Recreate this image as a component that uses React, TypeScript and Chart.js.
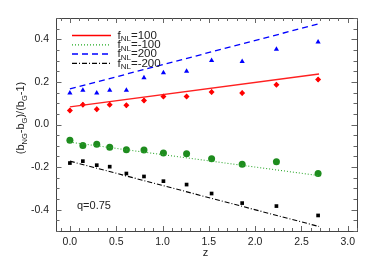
import React, { useEffect, useRef } from 'react';
import { Chart, registerables } from 'chart.js';
Chart.register(...registerables);

// ---- data ----
const zValues = [0.0, 0.14, 0.29, 0.43, 0.61, 0.8, 1.01, 1.26, 1.53, 1.86, 2.23, 2.68];
const blueTri = [0.148, 0.161, 0.148, 0.161, 0.161, 0.22, 0.243, 0.25, 0.3, 0.296, 0.353, 0.387];
const redDiamond = [0.066, 0.093, 0.072, 0.093, 0.09, 0.113, 0.131, 0.132, 0.153, 0.148, 0.187, 0.211];
const redErr = [0.011, 0.011, 0.011, 0.011, 0.011, 0.011, 0.011, 0.011, 0.011, 0.011, 0.011, 0.011];
const greenCircle = [-0.074, -0.099, -0.093, -0.107, -0.118, -0.12, -0.134, -0.137, -0.161, -0.187, -0.175, -0.23];
const blackSquare = [-0.181, -0.172, -0.191, -0.198, -0.23, -0.244, -0.266, -0.282, -0.324, -0.369, -0.383, -0.427];

const fitZ = [0.0, 2.69];
const fitRed = [0.083, 0.237];
const fitGreen = [-0.083, -0.24];
const fitBlue = [0.167, 0.473];
const fitBlack = [-0.172, -0.479];

const xTickValues = [0, 0.5, 1, 1.5, 2, 2.5, 3];
const yTickValues = [-0.4, -0.2, 0, 0.2, 0.4];
const legendValues = ['100', '-100', '200', '-200'];
const annotationText = 'q=0.75';

const FONT = '"Liberation Sans", Arial, Helvetica, sans-serif';

type Part = [string, boolean];

function partsWidth(ctx: CanvasRenderingContext2D, parts: Part[], main: number, sub: number) {
  let w = 0;
  for (const [t, s] of parts) {
    ctx.font = `${s ? sub : main}px ${FONT}`;
    w += ctx.measureText(t).width;
  }
  return w;
}

function drawParts(ctx: CanvasRenderingContext2D, parts: Part[], x: number, y: number, main: number, sub: number, subOff: number) {
  let cx = x;
  ctx.textBaseline = 'middle';
  ctx.textAlign = 'left';
  for (const [t, s] of parts) {
    ctx.font = `${s ? sub : main}px ${FONT}`;
    ctx.fillText(t, cx, s ? y + subOff : y);
    cx += ctx.measureText(t).width;
  }
}

export default function App() {
  const ref = useRef<HTMLCanvasElement>(null);

  useEffect(() => {
    if (!ref.current) return;

    const line = (arr: number[]) => fitZ.map((z, i) => ({ x: z, y: arr[i] }));
    const pts = (arr: number[]) => zValues.map((z, i) => ({ x: z, y: arr[i] }));

    const decor = {
      id: 'decor',
      afterDatasetsDraw(chart: any) {
        const ctx: CanvasRenderingContext2D = chart.ctx;
        const xs = chart.scales.x;
        const ys = chart.scales.y;
        // error bars for red diamonds
        ctx.save();
        ctx.strokeStyle = '#ff0000';
        ctx.lineWidth = 1.2;
        zValues.forEach((z, i) => {
          const px = xs.getPixelForValue(z);
          ctx.beginPath();
          ctx.moveTo(px, ys.getPixelForValue(redDiamond[i] + redErr[i]));
          ctx.lineTo(px, ys.getPixelForValue(redDiamond[i] - redErr[i]));
          ctx.stroke();
        });
        ctx.restore();
      },
      afterDraw(chart: any) {
        const ctx: CanvasRenderingContext2D = chart.ctx;
        const a = chart.chartArea;
        const xs = chart.scales.x;
        const ys = chart.scales.y;
        ctx.save();
        // frame
        ctx.strokeStyle = '#444';
        ctx.lineWidth = 1;
        ctx.strokeRect(Math.round(a.left) + 0.5, Math.round(a.top) + 0.5, Math.round(a.right - a.left), Math.round(a.bottom - a.top));
        // ticks
        ctx.strokeStyle = '#666';
        const xMin = xs.min, xMax = xs.max, yMin = ys.min, yMax = ys.max;
        for (let k = Math.ceil(xMin / 0.1 - 1e-6); k * 0.1 <= xMax + 1e-6; k++) {
          const v = k * 0.1;
          const major = Math.abs(v / 0.5 - Math.round(v / 0.5)) < 1e-6;
          const len = major ? 5 : 3;
          const px = Math.round(xs.getPixelForValue(v)) + 0.5;
          ctx.beginPath();
          ctx.moveTo(px, a.bottom); ctx.lineTo(px, a.bottom - len);
          ctx.moveTo(px, a.top); ctx.lineTo(px, a.top + len);
          ctx.stroke();
        }
        for (let k = Math.ceil(yMin / 0.05 - 1e-6); k * 0.05 <= yMax + 1e-6; k++) {
          const v = k * 0.05;
          const major = Math.abs(v / 0.2 - Math.round(v / 0.2)) < 1e-6;
          const len = major ? 5.5 : 3.5;
          const py = Math.round(ys.getPixelForValue(v)) + 0.5;
          ctx.beginPath();
          ctx.moveTo(a.left, py); ctx.lineTo(a.left + len, py);
          ctx.moveTo(a.right, py); ctx.lineTo(a.right - len, py);
          ctx.stroke();
        }
        // legend
        const colors = ['#ff0000', '#22aa22', '#0000ff', '#000000'];
        const dashes = [[], [1, 2], [6, 4], [5, 2, 1, 2]];
        const widths = [1.5, 1.2, 1.5, 1.2];
        legendValues.forEach((v, i) => {
          const y = 35.5 + i * 9.3;
          ctx.strokeStyle = colors[i];
          ctx.lineWidth = widths[i];
          ctx.setLineDash(dashes[i]);
          ctx.beginPath();
          ctx.moveTo(72, y); ctx.lineTo(111, y);
          ctx.stroke();
          ctx.setLineDash([]);
          ctx.fillStyle = '#222';
          drawParts(ctx, [['f', false], ['NL', true], ['=' + v, false]], 117.5, y, 11.5, 8, 3.5);
        });
        // annotation
        ctx.fillStyle = '#222';
        ctx.font = `11px ${FONT}`;
        ctx.textAlign = 'left';
        ctx.textBaseline = 'middle';
        ctx.fillText(annotationText, 77, 206);
        // x title
        ctx.textAlign = 'center';
        ctx.font = `11px ${FONT}`;
        ctx.fillText('z', 205.5, 253);
        // y title
        const yParts: Part[] = [['(b', false], ['NG', true], ['-b', false], ['G', true], [')/(b', false], ['G', true], ['-1)', false]];
        const w = partsWidth(ctx, yParts, 11, 7.5);
        ctx.translate(21, 118);
        ctx.rotate(-Math.PI / 2);
        drawParts(ctx, yParts, -w / 2, 0, 11, 7.5, 3.5);
        ctx.restore();
      },
    };

    const chart = new Chart(ref.current, {
      type: 'scatter',
      data: {
        datasets: [
          { type: 'line', data: line(fitRed), borderColor: '#ff2020', borderWidth: 1.3, pointRadius: 0, fill: false },
          { type: 'line', data: line(fitGreen), borderColor: '#33aa33', borderWidth: 1.1, borderDash: [1, 2], pointRadius: 0, fill: false },
          { type: 'line', data: line(fitBlue), borderColor: '#0000ff', borderWidth: 1.3, borderDash: [6, 4], pointRadius: 0, fill: false },
          { type: 'line', data: line(fitBlack), borderColor: '#000000', borderWidth: 1.1, borderDash: [5, 2, 1, 2], pointRadius: 0, fill: false },
          { data: pts(blueTri), pointStyle: 'triangle', pointRadius: 3, backgroundColor: '#0000ff', borderColor: '#0000ff', borderWidth: 0 },
          { data: pts(redDiamond), pointStyle: 'rectRot', pointRadius: 3, backgroundColor: '#ff0000', borderColor: '#ff0000', borderWidth: 0 },
          { data: pts(greenCircle), pointStyle: 'circle', pointRadius: 3.5, backgroundColor: '#1e8c1e', borderColor: '#1e8c1e', borderWidth: 0 },
          { data: pts(blackSquare), pointStyle: 'rect', pointRadius: 2.6, backgroundColor: '#000000', borderColor: '#000000', borderWidth: 0 },
        ] as any,
      },
      options: {
        animation: false,
        responsive: true,
        maintainAspectRatio: false,
        layout: { padding: { left: 0, top: 18, right: 17, bottom: 0 } },
        plugins: { legend: { display: false }, tooltip: { enabled: false } },
        scales: {
          x: {
            type: 'linear',
            min: -0.15,
            max: 3.1,
            grid: { display: false, drawTicks: false },
            border: { display: false },
            afterBuildTicks: (s: any) => { s.ticks = xTickValues.map((v) => ({ value: v })); },
            afterFit: (s: any) => { s.height = 36; },
            ticks: {
              padding: 5,
              color: '#222',
              font: { family: FONT, size: 10.5 },
              maxRotation: 0,
              callback: (v: any) => Number(v).toFixed(1),
            },
          },
          y: {
            type: 'linear',
            min: -0.5,
            max: 0.5,
            grid: { display: false, drawTicks: false },
            border: { display: false },
            afterBuildTicks: (s: any) => { s.ticks = yTickValues.map((v) => ({ value: v })); },
            afterFit: (s: any) => { s.width = 56; },
            ticks: {
              padding: 7,
              color: '#222',
              font: { family: FONT, size: 10.5 },
              callback: (v: any) => Number(v).toFixed(1),
            },
          },
        },
      },
      plugins: [decor],
    });
    return () => chart.destroy();
  }, []);

  return (
    <div style={{ position: 'fixed', left: 0, top: 0, width: 374, height: 267, background: '#fff' }}>
      <canvas ref={ref} />
    </div>
  );
}
